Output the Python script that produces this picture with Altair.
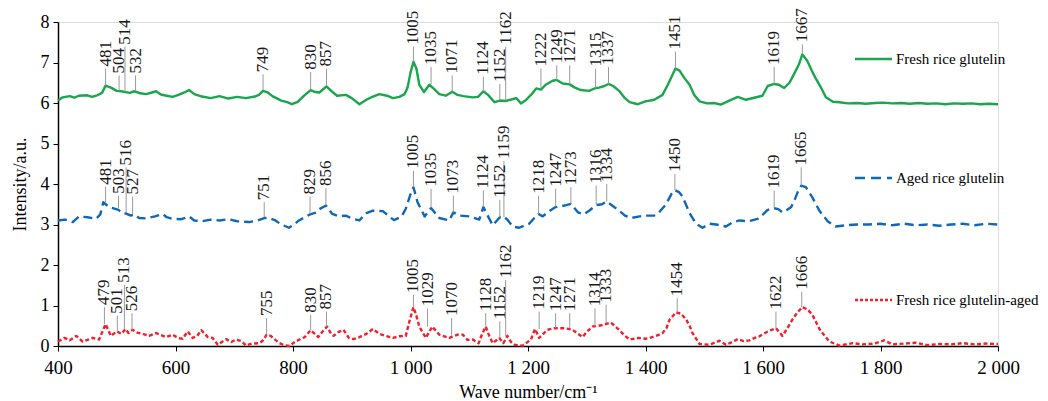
import altair as alt
import pandas as pd

# ---------------- spectra ----------------
fresh_wn = [400, 408, 420, 428, 435, 450, 458, 465, 475, 481,
            490, 500, 508, 515, 522, 530, 540, 550, 560, 567,
            575, 585, 595, 605, 615, 623, 632, 645, 660, 675,
            690, 705, 720, 735, 742, 749, 757, 765, 780, 790,
            798, 808, 818, 830, 838, 845, 857, 865, 875, 890,
            900, 913, 925, 935, 947, 960, 970, 981, 990, 995,
            1000, 1005, 1010, 1015, 1023, 1032, 1040, 1049, 1060, 1071,
            1080, 1090, 1106, 1115, 1124, 1132, 1143, 1152, 1162, 1170,
            1180, 1188, 1197, 1205, 1214, 1222, 1230, 1242, 1249, 1259,
            1271, 1280, 1290, 1304, 1315, 1321, 1330, 1337, 1345, 1355,
            1365, 1373, 1387, 1400, 1415, 1429, 1438, 1446, 1451, 1458,
            1466, 1475, 1483, 1492, 1505, 1517, 1528, 1540, 1557, 1571,
            1585, 1599, 1608, 1619, 1627, 1636, 1645, 1653, 1661, 1667,
            1675, 1683, 1690, 1698, 1707, 1719, 1730, 1745, 1760, 1775,
            1790, 1805, 1820, 1835, 1850, 1865, 1880, 1895, 1910, 1925,
            1940, 1955, 1970, 1985, 2000]
fresh_val = [6.06, 6.14, 6.17, 6.13, 6.18, 6.19, 6.15, 6.18, 6.25, 6.43,
             6.38, 6.30, 6.29, 6.27, 6.25, 6.29, 6.24, 6.22, 6.26, 6.29,
             6.21, 6.18, 6.15, 6.20, 6.26, 6.32, 6.22, 6.16, 6.12, 6.17,
             6.11, 6.15, 6.12, 6.16, 6.20, 6.30, 6.26, 6.17, 6.06, 6.02,
             5.97, 6.03, 6.17, 6.32, 6.27, 6.26, 6.41, 6.30, 6.18, 6.20,
             6.12, 5.97, 6.08, 6.15, 6.22, 6.18, 6.12, 6.15, 6.22, 6.38,
             6.75, 7.02, 6.85, 6.45, 6.27, 6.45, 6.35, 6.22, 6.18, 6.28,
             6.20, 6.17, 6.14, 6.15, 6.29, 6.20, 6.02, 6.06, 6.05, 6.08,
             6.12, 5.99, 6.08, 6.20, 6.36, 6.33, 6.45, 6.55, 6.57, 6.48,
             6.46, 6.38, 6.32, 6.30, 6.37, 6.38, 6.42, 6.47, 6.42, 6.30,
             6.12, 6.02, 5.97, 6.04, 6.08, 6.20, 6.45, 6.70, 6.85, 6.80,
             6.62, 6.45, 6.20, 6.04, 5.99, 6.00, 5.96, 6.04, 6.15, 6.08,
             6.13, 6.18, 6.42, 6.47, 6.45, 6.37, 6.50, 6.72, 6.95, 7.20,
             7.05, 6.80, 6.60, 6.40, 6.14, 6.03, 6.02, 5.99, 6.00, 5.98,
             6.00, 6.01, 5.99, 6.00, 5.98, 6.00, 5.98, 5.99, 5.97, 5.99,
             5.98, 5.99, 5.97, 5.98, 5.97]

aged_wn = [400, 412, 425, 436, 450, 465, 472, 477, 487, 496,
           503, 510, 516, 524, 530, 538, 550, 565, 578, 585,
           595, 610, 623, 632, 645, 660, 675, 690, 705, 725,
           740, 751, 759, 770, 780, 793, 802, 810, 820, 829,
           840, 845, 856, 867, 878, 890, 900, 913, 925, 936,
           953, 965, 972, 985, 992, 1000, 1005, 1012, 1024, 1035,
           1049, 1066, 1073, 1083, 1100, 1117, 1124, 1132, 1140, 1152,
           1159, 1166, 1174, 1185, 1202, 1210, 1218, 1225, 1235, 1247,
           1256, 1265, 1273, 1285, 1295, 1304, 1316, 1326, 1334, 1345,
           1355, 1365, 1375, 1390, 1401, 1415, 1423, 1435, 1444, 1450,
           1457, 1463, 1475, 1486, 1497, 1509, 1520, 1537, 1548, 1560,
           1575, 1591, 1600, 1608, 1619, 1626, 1633, 1640, 1648, 1655,
           1659, 1665, 1673, 1684, 1696, 1710, 1724, 1740, 1760, 1780,
           1800, 1820, 1840, 1860, 1880, 1900, 1920, 1940, 1960, 1980,
           2000]
aged_val = [3.10, 3.12, 3.06, 3.20, 3.18, 3.14, 3.25, 3.55, 3.43, 3.39,
            3.36, 3.28, 3.27, 3.22, 3.25, 3.16, 3.15, 3.20, 3.26, 3.18,
            3.14, 3.13, 3.20, 3.10, 3.08, 3.12, 3.10, 3.13, 3.08, 3.06,
            3.10, 3.16, 3.16, 3.10, 3.00, 2.92, 3.00, 3.10, 3.18, 3.25,
            3.30, 3.38, 3.47, 3.26, 3.20, 3.22, 3.15, 3.10, 3.28, 3.34,
            3.33, 3.18, 3.11, 3.20, 3.39, 3.75, 3.92, 3.55, 3.20, 3.41,
            3.16, 3.10, 3.30, 3.22, 3.20, 3.12, 3.43, 3.20, 2.98, 3.18,
            3.20, 3.10, 2.95, 2.92, 3.02, 3.15, 3.26, 3.20, 3.32, 3.43,
            3.45, 3.48, 3.51, 3.30, 3.25, 3.34, 3.48, 3.50, 3.57, 3.45,
            3.34, 3.22, 3.16, 3.20, 3.22, 3.22, 3.30, 3.50, 3.75, 3.85,
            3.80, 3.69, 3.28, 3.02, 2.92, 3.02, 3.00, 2.95, 3.05, 3.10,
            3.08, 3.14, 3.25, 3.36, 3.40, 3.38, 3.30, 3.35, 3.43, 3.65,
            3.80, 3.96, 3.92, 3.67, 3.34, 3.08, 2.95, 2.98, 3.00, 3.00,
            3.02, 2.98, 3.02, 2.98, 3.00, 2.97, 3.00, 3.02, 2.98, 3.02,
            3.00]

mixed_wn = [400, 411, 420, 431, 442, 450, 459, 470, 481, 490,
            500, 508, 515, 520, 527, 535, 544, 555, 567, 575,
            584, 595, 604, 612, 621, 629, 637, 644, 655, 663,
            672, 686, 695, 703, 712, 720, 730, 743, 750, 755,
            762, 770, 777, 785, 794, 803, 811, 820, 830, 837,
            843, 850, 858, 865, 869, 878, 886, 895, 903, 913,
            925, 936, 947, 958, 970, 981, 992, 998, 1005, 1010,
            1015, 1026, 1037, 1049, 1066, 1080, 1089, 1097, 1106, 1116,
            1122, 1128, 1134, 1140, 1151, 1158, 1165, 1171, 1177, 1191,
            1205, 1212, 1219, 1226, 1233, 1245, 1262, 1276, 1285, 1293,
            1300, 1310, 1320, 1327, 1341, 1355, 1365, 1373, 1389, 1400,
            1407, 1418, 1429, 1436, 1441, 1452, 1460, 1469, 1475, 1480,
            1492, 1509, 1526, 1537, 1548, 1557, 1567, 1577, 1586, 1594,
            1608, 1622, 1633, 1642, 1650, 1658, 1667, 1676, 1684, 1690,
            1696, 1705, 1713, 1730, 1753, 1770, 1790, 1806, 1820, 1840,
            1860, 1880, 1900, 1920, 1940, 1960, 1980, 2000]
mixed_val = [0.11, 0.20, 0.14, 0.25, 0.11, 0.15, 0.20, 0.16, 0.54, 0.25,
             0.36, 0.30, 0.42, 0.32, 0.40, 0.33, 0.30, 0.25, 0.32, 0.27,
             0.22, 0.28, 0.20, 0.18, 0.36, 0.20, 0.25, 0.39, 0.22, 0.20,
             0.03, 0.17, 0.10, 0.16, 0.12, 0.01, 0.06, 0.07, 0.15, 0.28,
             0.25, 0.15, 0.07, 0.02, 0.00, 0.10, 0.16, 0.22, 0.39, 0.30,
             0.22, 0.35, 0.48, 0.30, 0.25, 0.35, 0.40, 0.20, 0.17, 0.22,
             0.30, 0.42, 0.30, 0.25, 0.20, 0.24, 0.25, 0.60, 0.96, 0.75,
             0.48, 0.20, 0.48, 0.28, 0.20, 0.28, 0.28, 0.15, 0.16, 0.07,
             0.30, 0.48, 0.25, 0.07, 0.20, 0.07, 0.25, 0.10, 0.03, 0.01,
             0.16, 0.42, 0.20, 0.30, 0.40, 0.44, 0.44, 0.40, 0.30, 0.22,
             0.35, 0.48, 0.50, 0.52, 0.58, 0.40, 0.25, 0.16, 0.20, 0.18,
             0.20, 0.25, 0.32, 0.45, 0.65, 0.83, 0.80, 0.66, 0.50, 0.32,
             0.05, 0.03, 0.13, 0.03, 0.10, 0.17, 0.12, 0.14, 0.20, 0.24,
             0.36, 0.44, 0.25, 0.45, 0.65, 0.82, 0.96, 0.90, 0.77, 0.60,
             0.42, 0.25, 0.11, 0.01, 0.07, 0.04, 0.06, 0.14, 0.04, 0.06,
             0.08, 0.02, 0.05, 0.04, 0.07, 0.04, 0.06, 0.05]

# ---------------- peak annotations ----------------
fresh_peaks = [481, 504, 514, 532, 749, 830, 857, 1005, 1035, 1071, 1124,
               1152, 1162, 1222, 1249, 1271, 1315, 1337, 1451, 1619, 1667]
fresh_lo = [6.43, 6.31, 6.29, 6.29, 6.32, 6.33, 6.43, 7.02, 6.46, 6.28, 6.29,
            6.06, 6.06, 6.37, 6.57, 6.47, 6.37, 6.47, 6.85, 6.47, 7.20]
fresh_hi = [6.85, 6.68, 7.39, 6.68, 6.71, 6.77, 6.85, 7.39, 6.89, 6.68, 6.65,
            6.47, 7.39, 6.85, 6.93, 6.93, 6.85, 6.89, 7.27, 6.89, 7.45]

aged_peaks = [481, 503, 516, 527, 751, 829, 856, 1005, 1035, 1073, 1124,
              1152, 1159, 1218, 1247, 1273, 1316, 1334, 1450, 1619, 1665]
aged_lo = [3.55, 3.40, 3.30, 3.26, 3.18, 3.26, 3.47, 3.92, 3.41, 3.30, 3.43,
           3.18, 3.18, 3.26, 3.44, 3.51, 3.50, 3.57, 3.85, 3.41, 3.96]
aged_hi = [3.93, 3.71, 4.41, 3.69, 3.55, 3.69, 3.90, 4.33, 3.88, 3.71, 3.84,
           3.61, 4.57, 3.71, 3.88, 3.92, 3.96, 4.00, 4.25, 3.84, 4.41]

mixed_peaks = [479, 501, 513, 526, 755, 830, 857, 1005, 1029, 1070, 1128,
               1152, 1162, 1219, 1247, 1271, 1314, 1333, 1454, 1622, 1666]
mixed_lo = [0.54, 0.36, 0.42, 0.40, 0.28, 0.39, 0.48, 0.96, 0.48, 0.25, 0.48,
            0.20, 0.25, 0.42, 0.44, 0.44, 0.48, 0.58, 0.83, 0.44, 0.96]
mixed_hi = [0.96, 0.75, 1.51, 0.81, 0.69, 0.77, 0.85, 1.26, 0.93, 0.69, 0.81,
            0.61, 1.63, 0.85, 0.81, 0.81, 0.93, 1.02, 1.18, 0.85, 1.34]

series_names = ["Fresh rice glutelin", "Aged rice glutelin", "Fresh rice glutelin-aged"]
series_colors = ["#1aa64c", "#1067b8", "#f2202a"]
x_ticks = [400, 600, 800, 1000, 1200, 1400, 1600, 1800, 2000]
y_ticks = [0, 1, 2, 3, 4, 5, 6, 7, 8]

FONT = "Liberation Serif"

xs = alt.Scale(domain=[400, 2000], nice=False)
ys = alt.Scale(domain=[0, 8], nice=False)


def spectrum(wn, val, color, dash, width):
    df = pd.DataFrame({"wn": wn, "val": val})
    kw = dict(color=color, strokeWidth=width, strokeJoin="round", strokeCap="butt")
    if dash:
        kw["strokeDash"] = dash
    return alt.Chart(df).mark_line(**kw).encode(
        x=alt.X("wn:Q", scale=xs), y=alt.Y("val:Q", scale=ys))


def peaks(pk, lo, hi):
    df = pd.DataFrame({"wn": pk, "lo": lo, "hi": hi, "lab": [str(p) for p in pk]})
    rule = alt.Chart(df).mark_rule(color="#9a9a9a", strokeWidth=1).encode(
        x=alt.X("wn:Q", scale=xs), y=alt.Y("lo:Q", scale=ys), y2="hi:Q")
    txt = alt.Chart(df).mark_text(angle=270, align="left", baseline="middle", dx=2,
                                  font=FONT, fontSize=17, color="#1a1a1a").encode(
        x=alt.X("wn:Q", scale=xs), y=alt.Y("hi:Q", scale=ys), text="lab:N")
    return rule + txt


base = alt.Chart(pd.DataFrame({"wn": [400, 2000], "val": [0, 8]})).mark_point(opacity=0).encode(
    x=alt.X("wn:Q", scale=xs, title="Wave number/cm\u207b\u00b9",
            axis=alt.Axis(values=x_ticks, grid=False, tickSize=5, labelPadding=7,
                          labelFlush=False, labelOverlap=False,
                          labelExpr="replace(format(datum.value, ','), ',', ' ')",
                          domainColor="black", tickColor="black", domainWidth=1.5,
                          labelFont=FONT, labelFontSize=19, labelColor="black",
                          titleFont=FONT, titleFontSize=18, titleFontWeight="normal",
                          titleColor="black", titlePadding=6)),
    y=alt.Y("val:Q", scale=ys, title="Intensity/a.u.",
            axis=alt.Axis(values=y_ticks, grid=False, tickSize=5, labelPadding=4,
                          labelFlush=False,
                          domainColor="black", tickColor="black", domainWidth=1.5,
                          labelFont=FONT, labelFontSize=18, labelColor="black",
                          titleFont=FONT, titleFontSize=18, titleFontWeight="normal",
                          titleColor="black", titlePadding=11)),
)

layers = [base,
          spectrum(fresh_wn, fresh_val, series_colors[0], None, 2.4),
          spectrum(aged_wn, aged_val, series_colors[1], [9, 5], 2.4),
          spectrum(mixed_wn, mixed_val, series_colors[2], [4, 2.5], 2.4),
          peaks(fresh_peaks, fresh_lo, fresh_hi),
          peaks(aged_peaks, aged_lo, aged_hi),
          peaks(mixed_peaks, mixed_lo, mixed_hi)]

# custom legend entries (positions are pixel styling)
leg_y = [37, 156, 278]
leg_dash = [None, [10, 6], [3, 2]]
for name, col, yy, dash in zip(series_names, series_colors, leg_y, leg_dash):
    kw = dict(color=col, strokeWidth=2.4)
    if dash:
        kw["strokeDash"] = dash
    layers.append(alt.Chart(pd.DataFrame({"n": [name]})).mark_rule(**kw).encode(
        x=alt.value(797), x2=alt.value(834), y=alt.value(yy)))
    layers.append(alt.Chart(pd.DataFrame({"n": [name]})).mark_text(
        align="left", baseline="middle", font=FONT, fontSize=15, color="black").encode(
        x=alt.value(838), y=alt.value(yy), text="n:N"))

chart = alt.layer(*layers).properties(
    width=940, height=324,
    autosize=alt.AutoSizeParams(type="none"),
    padding={"left": 50, "top": 14, "right": 42, "bottom": 56},
).configure_view(stroke=None).configure(background="white")

chart.save("out.html", embed_options={"renderer": "svg", "actions": False})
